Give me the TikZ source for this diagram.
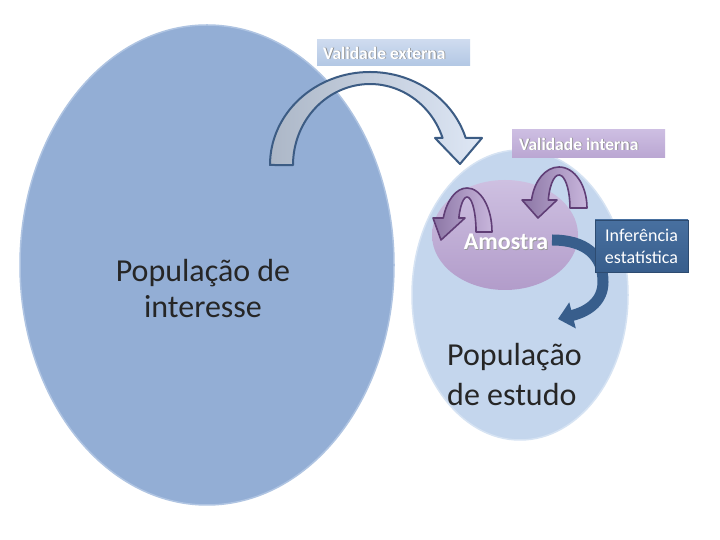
\documentclass[tikz,border=0pt]{standalone}
\usepackage{fontspec}
\setmainfont{Carlito}
\usetikzlibrary{shapes.geometric,arrows.meta}
\definecolor{bigfill}{RGB}{147,174,213}
\definecolor{bigedge}{RGB}{175,196,226}
\definecolor{smallfill}{RGB}{196,214,237}
\definecolor{smalledge}{RGB}{214,227,243}
\definecolor{amotop}{RGB}{206,192,225}
\definecolor{amobot}{RGB}{178,156,202}
\definecolor{arrowline}{RGB}{60,92,132}
\definecolor{arrowleft}{RGB}{172,183,199}
\definecolor{arrowright}{RGB}{222,231,245}
\definecolor{purpline}{RGB}{96,62,118}
\definecolor{purpdark}{RGB}{140,118,165}
\definecolor{purplight}{RGB}{200,182,220}
\definecolor{infblue}{RGB}{56,94,140}
\definecolor{infbluelight}{RGB}{72,112,160}
\definecolor{extbox}{RGB}{178,199,228}
\definecolor{extboxlight}{RGB}{206,219,239}
\definecolor{intbox}{RGB}{186,166,210}
\definecolor{intboxlight}{RGB}{205,190,226}
\tikzset{
  ell/.style={ellipse, inner sep=0pt},
  tagbox/.style={inner sep=5pt, minimum height=26pt, minimum width=153pt, text width=143pt, align=left},
  tagtext/.style={font=\fontsize{17.5}{20}\selectfont\bfseries, anchor=west, inner sep=0pt},
  bigarrow/.style={draw=arrowline, line width=2pt, line join=round, left color=arrowleft, right color=arrowright},
  purparrow/.style={draw=purpline, line width=1.6pt, line join=round, left color=purpdark, right color=purplight}
}
\begin{document}
\begin{tikzpicture}[x=1pt,y=1pt]
\useasboundingbox (0,0) rectangle (720,540);
\fill[white] (0,0) rectangle (720,540);

% big ellipse
\node[ell, draw=bigedge, line width=1.5pt, fill=bigfill,
  minimum width=374pt, minimum height=480pt] (interesse) at (207,275) {};
\node[font=\fontsize{32}{36}\selectfont, align=center, text=black!85] (tinteresse) at (203,251) {População de\\interesse};

% small ellipse
\node[ell, draw=smalledge, line width=1.5pt, fill=smallfill,
  minimum width=216pt, minimum height=290pt] (estudo) at (520,245) {};
\node[font=\fontsize{32}{40}\selectfont, align=left, anchor=west, inner sep=0pt, text=black!85] (testudo) at (447,165) {População\\de estudo};

% big curved arrow
\path[bigarrow] (270,375) arc[start angle=180, end angle=17, x radius=100, y radius=93]
  -- (482,402) -- (460,376) -- (435,402) -- (442.6,402)
  arc[start angle=19.5, end angle=180, x radius=77, y radius=81] -- cycle;

% Validade externa
\node[tagbox, top color=extboxlight, bottom color=extbox] (vext) at (393.5,487) {};
\node[tagtext, text=black!45] (vextshadow) at (323.8,486.2) {Validade externa};
\node[tagtext, text=white] (vexttext) at (323,487) {Validade externa};

% Amostra
\node[ell, top color=amotop, bottom color=amobot,
  minimum width=146pt, minimum height=110pt] (amostra) at (505,305) {};
\node[font=\fontsize{24}{28}\selectfont\bfseries, text=black!40] (tamostrashadow) at (506.8,297.2) {Amostra};
\node[font=\fontsize{24}{28}\selectfont\bfseries, text=white] (tamostra) at (506,298) {Amostra};

% Validade interna
\node[tagbox, top color=intboxlight, bottom color=intbox, minimum height=28pt] (vint) at (588.5,396) {};
\node[tagtext, text=black!45] (vintshadow) at (519.8,395.2) {Validade interna};
\node[tagtext, text=white] (vinttext) at (519,396) {Validade interna};

% purple arrows
\path[purparrow] (492,308) arc[start angle=0, end angle=161.5, x radius=25, y radius=44]
  -- (433,322) -- (441,300) -- (465,322) -- (458.8,322)
  arc[start angle=156.4, end angle=0, x radius=9, y radius=35] -- cycle;
\path[purparrow] (587,332) arc[start angle=0, end angle=168.75, x radius=28, y radius=41]
  -- (522,340) -- (538,322) -- (557,340) -- (548.3,340)
  arc[start angle=166, end angle=0, x radius=11, y radius=33] -- cycle;

% inference arrow
\draw[infblue, line width=11pt, -{Triangle[width=26pt,length=15pt]}]
  (552,300) .. controls (585,300) and (603,285) .. (603,258)
  .. controls (603,240) and (590,229) .. (558,221);

% Inferencia box
\node[top color=infbluelight, bottom color=infblue, draw=infblue!80!black, line width=0.6pt,
  minimum width=93pt, minimum height=52pt, text width=85pt, align=center, inner sep=4pt,
  text=white, font=\fontsize{18}{22}\selectfont] (inf) at (641.5,294) {Inferência\\estatística};
\end{tikzpicture}
\end{document}
